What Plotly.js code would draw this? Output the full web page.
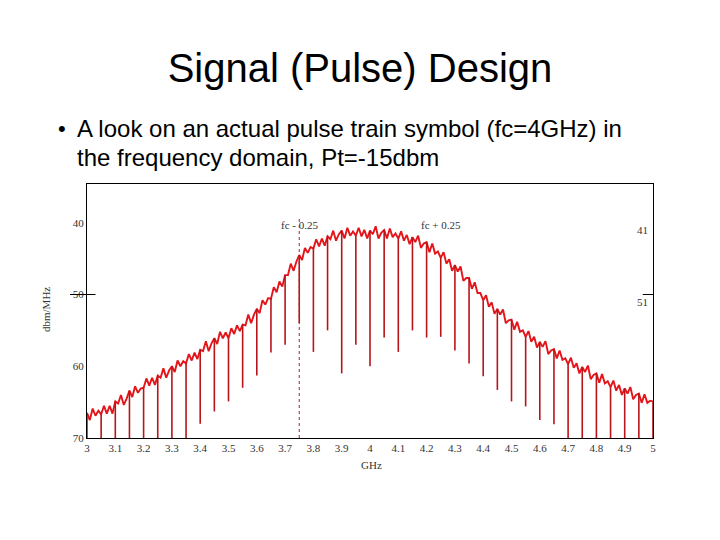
<!DOCTYPE html>
<html>
<head>
<meta charset="utf-8">
<script src="https://cdn.plot.ly/plotly-3.0.1.min.js"></script>
<style>
html,body{margin:0;padding:0;background:#fff;}
#chart{width:720px;height:540px;}
</style>
</head>
<body>
<div id="chart"></div>
<script>
// Spectrum samples: start frequency 3.00 GHz, 0.01 GHz apart (dBm/MHz)
const startGHz = 3.0;
const stepGHz = 0.01;
const levelDbm = [
  -66.5,-67.5,-65.9,-66.9,-66.2, -66.7,-65.5,-66.6,-65.5,-66.6,
  -64.9,-65.2,-64.0,-65.4,-64.5, -63.4,-64.3,-62.8,-63.7,-63.1,
  -63.0,-61.7,-62.7,-61.6,-62.6, -61.3,-61.6,-60.3,-61.6,-60.6,
  -60.0,-60.8,-59.2,-60.0,-59.3, -59.6,-58.3,-59.2,-58.1,-59.0,
  -57.7,-57.9,-56.5,-57.9,-56.8, -56.1,-56.9,-55.2,-56.1,-55.3,
  -56.1,-54.7,-55.5,-54.3,-55.1, -54.2,-54.3,-52.8,-54.0,-52.8,
  -52.0,-52.6,-50.8,-51.4,-50.5, -50.6,-49.0,-49.7,-48.2,-48.9,
  -47.3,-47.3,-45.7,-46.7,-45.4, -44.5,-45.2,-43.5,-44.2,-43.4,
  -43.6,-42.3,-43.3,-42.2,-43.2, -41.9,-42.3,-41.1,-42.5,-41.6,
  -41.1,-42.2,-40.7,-41.8,-41.2, -41.8,-40.7,-41.9,-41.0,-42.2,
  -41.1,-41.6,-40.5,-42.2,-41.4, -41.0,-42.2,-40.8,-42.0,-41.5,
  -42.2,-41.2,-42.5,-41.7,-43.0, -42.0,-42.7,-41.8,-43.5,-42.9,
  -42.7,-44.1,-42.9,-44.3,-44.0, -44.9,-44.1,-45.7,-45.1,-46.7,
  -45.9,-46.8,-46.1,-48.1,-47.7, -47.7,-49.2,-48.3,-49.8,-49.8,
  -50.8,-50.1,-51.7,-51.1,-52.7, -52.0,-52.8,-52.1,-54.0,-53.6,
  -53.5,-54.9,-53.8,-55.2,-55.0, -55.9,-55.1,-56.6,-55.9,-57.4,
  -56.6,-57.3,-56.5,-58.3,-57.8, -57.6,-58.9,-57.8,-59.1,-58.9,
  -59.7,-58.8,-60.2,-59.6,-61.0, -60.1,-60.8,-59.9,-61.8,-61.2,
  -61.0,-62.3,-61.1,-62.4,-62.1, -62.9,-62.0,-63.4,-62.6,-64.0,
  -63.1,-63.8,-62.9,-64.6,-64.0, -63.8,-65.1,-63.9,-65.1,-64.8,
  -64.9
];

// Deep notches of the pulse-train spectrum
const notchGHz = [3.00,3.05,3.10,3.15,3.20,3.25,3.30,3.35,3.40,3.45,3.50,3.55,3.60,3.65,
  3.70,3.75,3.80,3.85,3.90,3.95,4.00,4.05,4.10,4.15,4.20,4.25,4.30,4.35,4.40,4.45,
  4.50,4.55,4.60,4.65,4.70,4.75,4.80,4.85,4.90,4.95,5.00];
const notchDbm = [-70,-70,-70,-70,-70,-70,-70,-70,-68,-66.3,-64.9,-63,-61.3,-58.1,
  -57,-54,-58,-55,-61,-57,-60,-56,-58,-55,-56,-55.9,-57.8,-59.6,-61.4,-63.3,
  -64.9,-65.6,-67.5,-68.1,-70,-70,-70,-70,-70,-70,-70];

const xTickLabels = ['3','3.1','3.2','3.3','3.4','3.5','3.6','3.7','3.8','3.9','4',
  '4.1','4.2','4.3','4.4','4.5','4.6','4.7','4.8','4.9','5'];
const yTickVals = [-40,-50,-60,-70];
const yTickLabels = ['40','50','60','70'];
const markerGHz = [3.75, 4.25];
const markerLabels = ['fc - 0.25', 'fc + 0.25'];
const rightLabelDbm = [-41, -51];
const rightLabels = ['41', '51'];

// notch segments drawn from the sampled level down to the notch depth
const nx = [], ny = [];
notchGHz.forEach((f, i) => {
  const idx = Math.round((f - startGHz) / stepGHz);
  nx.push(f, f, null);
  ny.push(levelDbm[idx], notchDbm[i], null);
});

const serif = 'Liberation Serif, Times New Roman, serif';
const sans = 'Liberation Sans, Arial, sans-serif';

const traces = [
  {type:'scatter', mode:'lines', x0:startGHz, dx:stepGHz, y:levelDbm,
   line:{color:'#e3151b', width:1.9}, hoverinfo:'skip'},
  {type:'scatter', mode:'lines', x:nx, y:ny,
   line:{color:'#b81419', width:1.6}, hoverinfo:'skip'}
];

const annotations = [
  {xref:'paper', yref:'paper', x:-0.044, y:1.220, text:'•', showarrow:false,
   font:{family:sans, size:22, color:'#000'}, xanchor:'center', yanchor:'middle'},
  {xref:'paper', yref:'paper', x:-0.0212, y:1.220, text:'A look on an actual pulse train symbol (fc=4GHz) in',
   showarrow:false, font:{family:sans, size:24, color:'#000'}, xanchor:'left', yanchor:'middle'},
  {xref:'paper', yref:'paper', x:-0.0212, y:1.106, text:'the frequency domain, Pt=-15dbm',
   showarrow:false, font:{family:sans, size:24, color:'#000'}, xanchor:'left', yanchor:'middle'},
  {xref:'paper', yref:'paper', x:-0.0724, y:0.504, text:'dbm/MHz', textangle:-90, showarrow:false,
   font:{family:serif, size:11, color:'#333'}, xanchor:'center', yanchor:'middle'},
  {xref:'paper', yref:'paper', x:0.5035, y:-0.106, text:'GHz', showarrow:false,
   font:{family:serif, size:11, color:'#333'}, xanchor:'center', yanchor:'middle'}
];
markerGHz.forEach((f, i) => annotations.push({
  xref:'x', yref:'paper', x:f, y:0.837, text:markerLabels[i], showarrow:false,
  font:{family:serif, size:11, color:'#333'}, xanchor:'center', yanchor:'middle'}));
rightLabelDbm.forEach((v, i) => annotations.push({
  xref:'paper', yref:'y', x:0.995, y:v, text:rightLabels[i], showarrow:false,
  font:{family:serif, size:11, color:'#333'}, xanchor:'right', yanchor:'middle'}));

const layout = {
  width:720, height:540,
  margin:{l:87, r:67, t:184, b:102},
  paper_bgcolor:'#fff', plot_bgcolor:'#fff',
  showlegend:false,
  title:{text:'Signal (Pulse) Design', x:0.5, xref:'container', xanchor:'center',
    y:0.874, yref:'container', yanchor:'middle',
    font:{family:sans, size:40, color:'#000'}},
  xaxis:{range:[3,5], tickvals:xTickLabels.map(Number), ticktext:xTickLabels,
    showgrid:false, zeroline:false, showline:true, mirror:true, linecolor:'#000', linewidth:1,
    ticks:'', tickfont:{family:serif, size:11, color:'#333'}},
  yaxis:{range:[-70,-34.6], tickvals:yTickVals, ticktext:yTickLabels,
    showgrid:false, zeroline:false, showline:true, mirror:true, linecolor:'#000', linewidth:1,
    ticks:'', tickfont:{family:serif, size:11, color:'#333'}},
  shapes:[
    {type:'line', xref:'x', yref:'paper', x0:markerGHz[0], x1:markerGHz[0], y0:0, y1:0.87,
     line:{color:'#a0282c', width:1, dash:'dot'}},
    {type:'line', xref:'paper', yref:'y', x0:-0.03, x1:0.015, y0:-50, y1:-50,
     line:{color:'#000', width:1}},
    {type:'line', xref:'paper', yref:'y', x0:0.982, x1:1, y0:-50, y1:-50,
     line:{color:'#000', width:1}}
  ],
  annotations:annotations
};

Plotly.newPlot('chart', traces, layout, {staticPlot:true, displayModeBar:false});
</script>
</body>
</html>
